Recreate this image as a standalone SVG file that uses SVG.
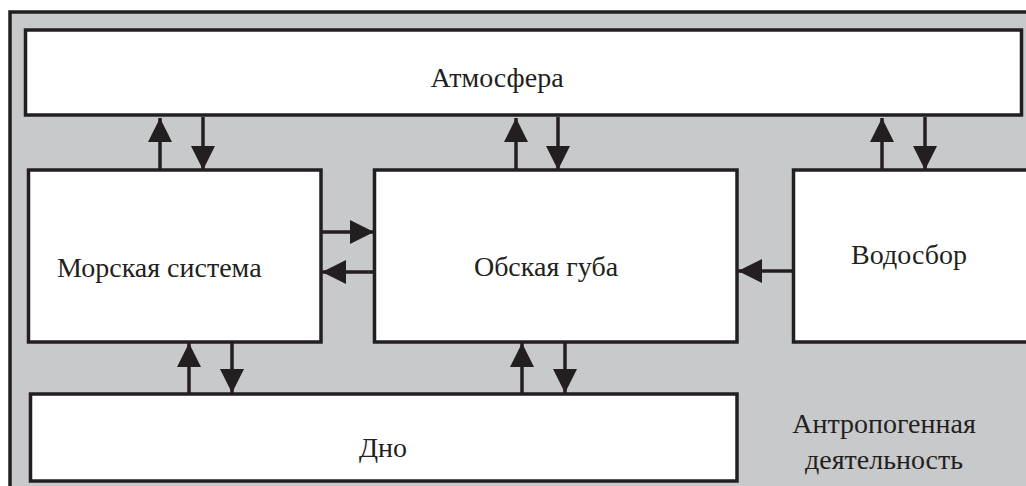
<svg xmlns="http://www.w3.org/2000/svg" width="1026" height="486" viewBox="0 0 1026 486">
<defs>
<style>
.box{fill:#fff;stroke:#231f20;stroke-width:3.5}
.ln{stroke:#231f20;stroke-width:3.5;fill:none}
.t{font-family:"Liberation Serif","Times New Roman",serif;font-size:28px;fill:#231f20}
</style>
<marker id="ah" viewBox="0 0 24 24" markerWidth="24" markerHeight="24" refX="24" refY="12" orient="auto" markerUnits="userSpaceOnUse">
<path d="M0,0 L24,12 L0,24 Z" fill="#231f20"/>
</marker>
</defs>
<rect x="10" y="12" width="1040" height="500" fill="#c8c9cb" stroke="#231f20" stroke-width="3.5"/>
<g id="connectors">
<line class="ln" x1="160" y1="170" x2="160" y2="118" marker-end="url(#ah)"/>
<line class="ln" x1="203" y1="117" x2="203" y2="170" marker-end="url(#ah)"/>
<line class="ln" x1="516" y1="170" x2="516" y2="118" marker-end="url(#ah)"/>
<line class="ln" x1="558" y1="117" x2="558" y2="170" marker-end="url(#ah)"/>
<line class="ln" x1="882" y1="170" x2="882" y2="118" marker-end="url(#ah)"/>
<line class="ln" x1="925" y1="117" x2="925" y2="170" marker-end="url(#ah)"/>
<line class="ln" x1="321" y1="232" x2="374" y2="232" marker-end="url(#ah)"/>
<line class="ln" x1="374" y1="272" x2="322" y2="272" marker-end="url(#ah)"/>
<line class="ln" x1="793" y1="271" x2="738" y2="271" marker-end="url(#ah)"/>
<line class="ln" x1="189" y1="394" x2="189" y2="343" marker-end="url(#ah)"/>
<line class="ln" x1="232" y1="342" x2="232" y2="393" marker-end="url(#ah)"/>
<line class="ln" x1="522" y1="394" x2="522" y2="343" marker-end="url(#ah)"/>
<line class="ln" x1="565" y1="342" x2="565" y2="393" marker-end="url(#ah)"/>
</g>
<g id="atmosfera">
<rect class="box" x="25.5" y="30" width="996" height="85"/>
<text class="t" x="497" y="87" text-anchor="middle">Атмосфера</text>
</g>
<g id="morskaya">
<rect class="box" x="28.5" y="170" width="292.5" height="172"/>
<text class="t" x="57" y="277">Морская система</text>
</g>
<g id="obskaya">
<rect class="box" x="374.5" y="170" width="362.5" height="172"/>
<text class="t" x="546" y="276" text-anchor="middle">Обская губа</text>
</g>
<g id="vodosbor">
<rect class="box" x="793.5" y="170" width="240" height="172"/>
<text class="t" x="909" y="264" text-anchor="middle">Водосбор</text>
</g>
<g id="dno">
<rect class="box" x="30.5" y="394" width="706.5" height="87"/>
<text class="t" x="383" y="457" text-anchor="middle">Дно</text>
</g>
<g id="antropogen">
<text class="t" x="884" y="433" text-anchor="middle">Антропогенная</text>
<text class="t" x="884" y="469" text-anchor="middle">деятельность</text>
</g>
</svg>
